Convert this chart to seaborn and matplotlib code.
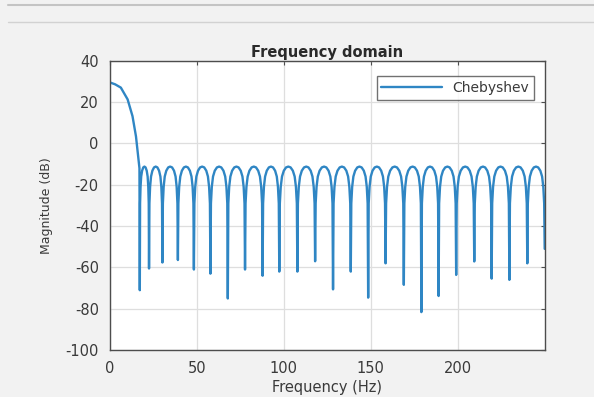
import numpy as np
import pandas as pd
import seaborn as sns
import matplotlib.pyplot as plt
from matplotlib.lines import Line2D

# main lobe (Hz, dB)
main_hz = [0, 3, 6.3, 10.2, 13, 15, 16.3, 17.0]
main_db = [29.5, 28.6, 27.0, 21.3, 13.2, 3.4, -6.3, -12.0]

# null positions and depths of the side lobes
null_hz = [17.2, 22.5, 30.2, 39.1, 48.3, 57.8, 67.8, 77.7, 87.8, 97.4,
           107.8, 118.0, 128.3, 138.5, 148.5, 158.5, 169.0, 179.1, 189.0,
           199.1, 209.5, 219.5, 229.7, 240.0, 250.0]
null_db = [-71, -60.5, -57.6, -56.4, -61, -63, -75, -61, -64, -62,
           -62, -57, -70.6, -62, -74.6, -58, -68.4, -81.6, -73.8,
           -63.6, -57.1, -65.4, -66, -58, -51]

# shape of one side lobe between two nulls (fraction of lobe width, dB)
lobe_frac = [0.03, 0.08, 0.15, 0.25, 0.375, 0.5, 0.625, 0.75, 0.85, 0.92, 0.97]
lobe_db = [-29.0, -21.0, -16.0, -13.2, -11.6, -11.2, -11.6, -13.2, -16.0, -21.0, -29.0]

freq = list(main_hz)
mag = list(main_db)
for i in range(len(null_hz) - 1):
    a, b = null_hz[i], null_hz[i + 1]
    freq.append(a)
    mag.append(null_db[i])
    for f, d in zip(lobe_frac, lobe_db):
        freq.append(a + f * (b - a))
        mag.append(d)
freq.append(null_hz[-1])
mag.append(null_db[-1])

df = pd.DataFrame({'Frequency (Hz)': freq, 'Magnitude (dB)': mag})

sns.set_style('white')
plt.rcParams['font.family'] = ['DejaVu Sans']
plt.rcParams['axes.unicode_minus'] = False

fig = plt.figure(figsize=(5.94, 3.97), dpi=100, facecolor='#f2f2f2')
ax = fig.add_axes([0.185, 0.118, 0.732, 0.729])
ax.set_facecolor('white')

sns.lineplot(data=df, x='Frequency (Hz)', y='Magnitude (dB)', ax=ax,
             sort=False, estimator=None, color='#2f86c4', linewidth=1.7,
             label='Chebyshev')

ax.set_xlim(0, 250)
ax.set_ylim(-100, 40)
ax.set_xticks([0, 50, 100, 150, 200])
ax.set_yticks(np.arange(-100, 41, 20))
ax.grid(True, color='#dedede', linewidth=0.9)
ax.tick_params(direction='in', top=True, right=True, length=3,
               width=0.8, color='#4d4d4d', labelsize=10.5,
               labelcolor='#3a3a3a', pad=8)
for spine in ax.spines.values():
    spine.set_edgecolor('#4d4d4d')
    spine.set_linewidth(1.0)

ax.set_title('Frequency domain', fontsize=10.5, fontweight='bold',
             color='#2a2a2a', pad=3)
ax.set_xlabel('Frequency (Hz)', fontsize=10.5, color='#3a3a3a', labelpad=3)
ax.set_ylabel('Magnitude (dB)', fontsize=9, color='#3a3a3a', labelpad=9)

leg = ax.legend(loc='upper right', bbox_to_anchor=(0.975, 0.947),
                borderaxespad=0, fontsize=10, frameon=True, fancybox=False,
                handlelength=4.4, borderpad=0.35, handletextpad=0.7)
leg.get_frame().set_edgecolor('#4d4d4d')
leg.get_frame().set_linewidth(1.0)
for t in leg.get_texts():
    t.set_color('#3a3a3a')

# window strip at the top of the screenshot
fig.add_artist(Line2D([8 / 594, 1], [1 - 5 / 397] * 2, color='#c4c4c4', lw=1.5))
fig.add_artist(Line2D([8 / 594, 1], [1 - 22 / 397] * 2, color='#d2d2d2', lw=1.0))

fig.savefig('out.png', dpi=100, facecolor=fig.get_facecolor())
